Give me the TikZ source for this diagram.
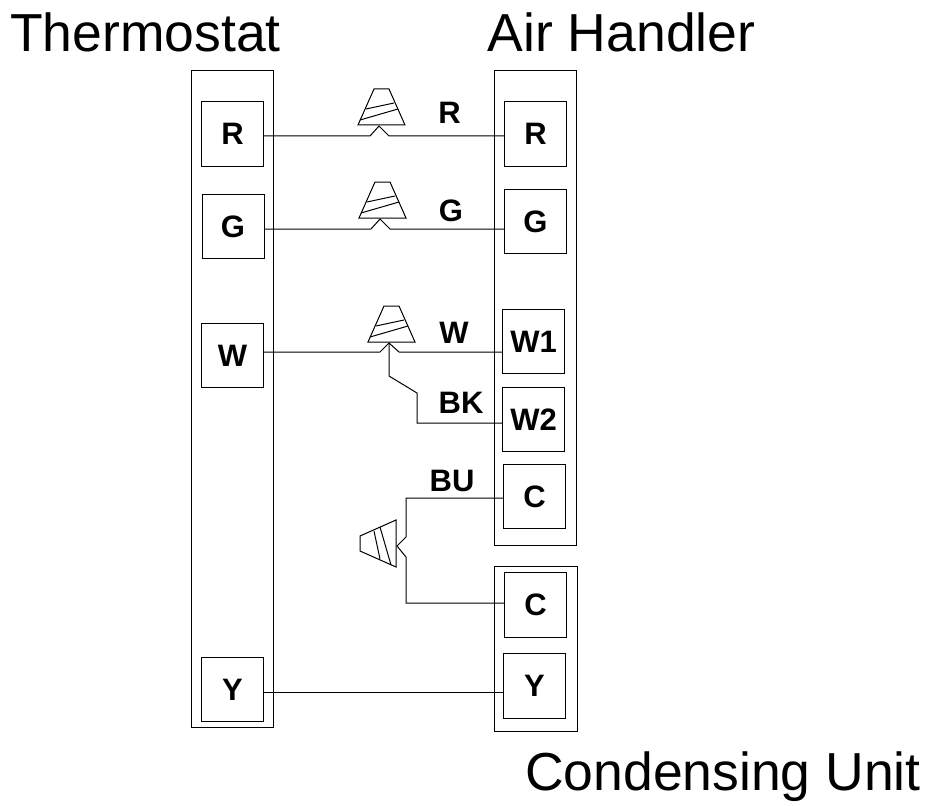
\documentclass[tikz,border=0pt]{standalone}
\usepackage{fontspec}
\setmainfont{Liberation Sans}
\tikzset{
  x=1pt,y=-1pt,
  frame/.style={draw,line width=1pt,inner sep=0pt},
  term/.style={draw,line width=1pt,inner sep=0pt,minimum width=62pt,minimum height=64.5pt,font=\fontsize{31}{33}\selectfont\bfseries},
  wirelabel/.style={inner sep=0pt,font=\fontsize{31}{33}\selectfont\bfseries},
  title/.style={inner sep=0pt,font=\fontsize{53.5}{56}\selectfont},
  wire/.style={line width=1pt,line join=miter},
  nut/.pic={
    \draw[line width=1pt] (-21,-1) -- (-5,-37) -- (10,-37) -- (26,-1) -- cycle;
    \draw[line width=1pt] (-13,-17) -- (15,-23);
    \draw[line width=1pt] (-19,-6) -- (19,-17);
  }
}
\begin{document}
\begin{tikzpicture}
    \useasboundingbox (0,0) rectangle (933,805);

    % titles
    \node[title] (thermostat) at (145.5,32.5) {Thermostat};
    \node[title] (airhandler) at (621.5,32.5) {Air Handler};
    \node[title] (condensing) at (723,777) {Condensing Unit};

    % units
    \node[frame,minimum width=82pt,minimum height=656pt] (thermbox) at (232,399) {};
    \node[frame,minimum width=82pt,minimum height=474pt] (airbox) at (535,308) {};
    \node[frame,minimum width=83pt,minimum height=165pt] (condbox) at (535.5,648.5) {};

    % terminals
    \node[term] (tR) at (232.5,134) {R};
    \node[term] (tG) at (233,226.5) {G};
    \node[term] (tW) at (232.5,355.5) {W};
    \node[term] (tY) at (232.5,689.5) {Y};

    \node[term] (aR) at (535.5,134) {R};
    \node[term] (aG) at (535.5,221.5) {G};
    \node[term] (aWa) at (533.5,341.5) {W1};
    \node[term] (aWb) at (533.5,419.5) {W2};
    \node[term] (aC) at (534.5,496.5) {C};

    \node[term] (cC) at (535.5,605) {C};
    \node[term] (cY) at (534.5,686) {Y};

    % wire nuts
    \coordinate (nutR) at (379,126);
    \coordinate (nutG) at (380,219);
    \coordinate (nutW) at (389,343);
    \coordinate (nutC) at (397,546);
    \pic at (nutR) {nut};
    \pic at (nutG) {nut};
    \pic at (nutW) {nut};
    \pic[rotate=90] at (nutC) {nut};

    % wires
    \draw[wire] (tR.east |- 0,136) -- (370,136) -- (nutR) -- (389,136) -- (aR.west |- 0,136);
    \draw[wire] (tG.east |- 0,229) -- (371,229) -- (nutG) -- (390,229) -- (aG.west |- 0,229);
    \draw[wire] (tW.east |- 0,352) -- (380,352) -- (nutW) -- (399,352) -- (aWa.west |- 0,352);
    \draw[wire] (nutW) -- (389,376) -- (417,393) -- (417,423) -- (aWb.west |- 0,423);
    \draw[wire] (aC.west |- 0,498) -- (406,498) -- (406,537) -- (nutC) -- (406,557) -- (406,603) -- (cC.west |- 0,603);
    \draw[wire] (tY.east |- 0,692) -- (cY.west |- 0,692);

    % wire labels
    \node[wirelabel] (lR) at (449.5,113) {R};
    \node[wirelabel] (lG) at (451,211) {G};
    \node[wirelabel] (lW) at (454,333) {W};
    \node[wirelabel] (lBK) at (461,403) {BK};
    \node[wirelabel] (lBU) at (452,481) {BU};
\end{tikzpicture}
\end{document}
